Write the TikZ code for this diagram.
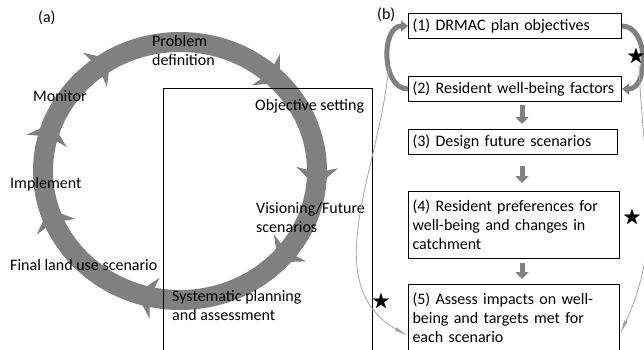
\documentclass[tikz,border=0pt]{standalone}
\usepackage{amssymb}
\usepackage{fontspec}
\setmainfont{Carlito}
\usetikzlibrary{arrows.meta,positioning}

\begin{document}
\begin{tikzpicture}[x=1pt,y=1pt,font=\fontsize{16}{19}\selectfont,
                    ring/.style={draw=gray,line width=20pt},
                    lab/.style={anchor=west,inner sep=0pt,align=left},
                    stage/.style={draw,line width=1pt,align=left,inner xsep=4pt,
                                  minimum height=25pt,text width=#1},
                    garrow/.style={gray,line width=5pt,-{Triangle[length=7pt,width=13pt]}},
                    loopar/.style={gray,line width=5pt,-{Triangle[length=7pt,width=11pt]}},
                    feed/.style={gray!70,line width=0.8pt,-{Latex[length=14pt,width=4pt]}},
                    mark star/.style={inner sep=0pt,font=\fontsize{19}{19}\selectfont}]
    \useasboundingbox (0,0) rectangle (644,349);
    % (a) planning cycle
    \draw[ring] (180,178) ellipse [x radius=137, y radius=129];
    \foreach \a in {125,48,-2,-40,-104,-158,163}
        \fill[gray,shift={({180+137*cos(\a)},{178+129*sin(\a)})},rotate=\a-90]
            (11,0) -- (-8,21) -- (-3,0) -- (-8,-21) -- cycle;
    \draw[line width=0.8pt] (163,-2) -- (163,261) -- (372,261) -- (372,-2);
    \node[lab] (pa) at (38,331) {(a)};
    \node[lab] (prob) at (152,298) {Problem\\definition};
    \node[lab] (mon) at (33,253) {Monitor};
    \node[lab] (obj) at (255,243) {Objective setting};
    \node[lab] (imp) at (10,165) {Implement};
    \node[lab] (vis) at (256,131) {Visioning/Future\\scenarios};
    \node[lab] (fin) at (10,84) {Final land use scenario};
    \node[lab] (sys) at (172,44) {Systematic planning\\and assessment};
    % (b) steps
    \node[lab] (pb) at (377,334) {(b)};
    \node[stage=205pt,anchor=north west] (b1) at (408,336) {(1) DRMAC plan objectives};
    \node[stage=205pt,below=37pt of b1.south west,anchor=north west] (b2) {(2) Resident well-being factors};
    \node[stage=201pt,below=27pt of b2.south west,anchor=north west] (b3) {(3) Design future scenarios};
    \node[stage=203pt,minimum height=67pt,below=36pt of b3.south west,anchor=north west] (b4)
        {(4) Resident preferences for\\well-being and changes in\\catchment};
    \node[stage=203pt,minimum height=67pt,below=25pt of b4.south west,anchor=north west] (b5)
        {(5) Assess impacts on well-\\being and targets met for\\each scenario};
    \draw[garrow,shorten <=3pt,shorten >=5pt] ([xshift=7pt]b2.south) -- ([xshift=9pt]b3.north);
    \draw[garrow,shorten <=11pt,shorten >=8pt] ([xshift=9pt]b3.south) -- ([xshift=8pt]b4.north);
    \draw[garrow,shorten <=4pt,shorten >=5pt] ([xshift=8pt]b4.south) -- ([xshift=8pt]b5.north);
    \draw[loopar] (b2.west) to[out=180,in=180,looseness=1.1] (b1.west);
    \draw[loopar] (b1.east) to[out=0,in=0,looseness=1.1] (b2.east);
    \coordinate (lj) at (389,284);
    \coordinate (rj) at (639,284);
    \draw[feed] (lj) to[out=-95,in=150] ([yshift=-18pt]b5.west);
    \draw[feed] (rj) to[out=-88,in=65] ([yshift=-16pt]b5.east);
    \node[mark star] (s1) at (636,292) {$\bigstar$};
    \node[mark star] (s2) at (632,131) {$\bigstar$};
    \node[mark star] (s3) at (381,47) {$\bigstar$};
\end{tikzpicture}
\end{document}
